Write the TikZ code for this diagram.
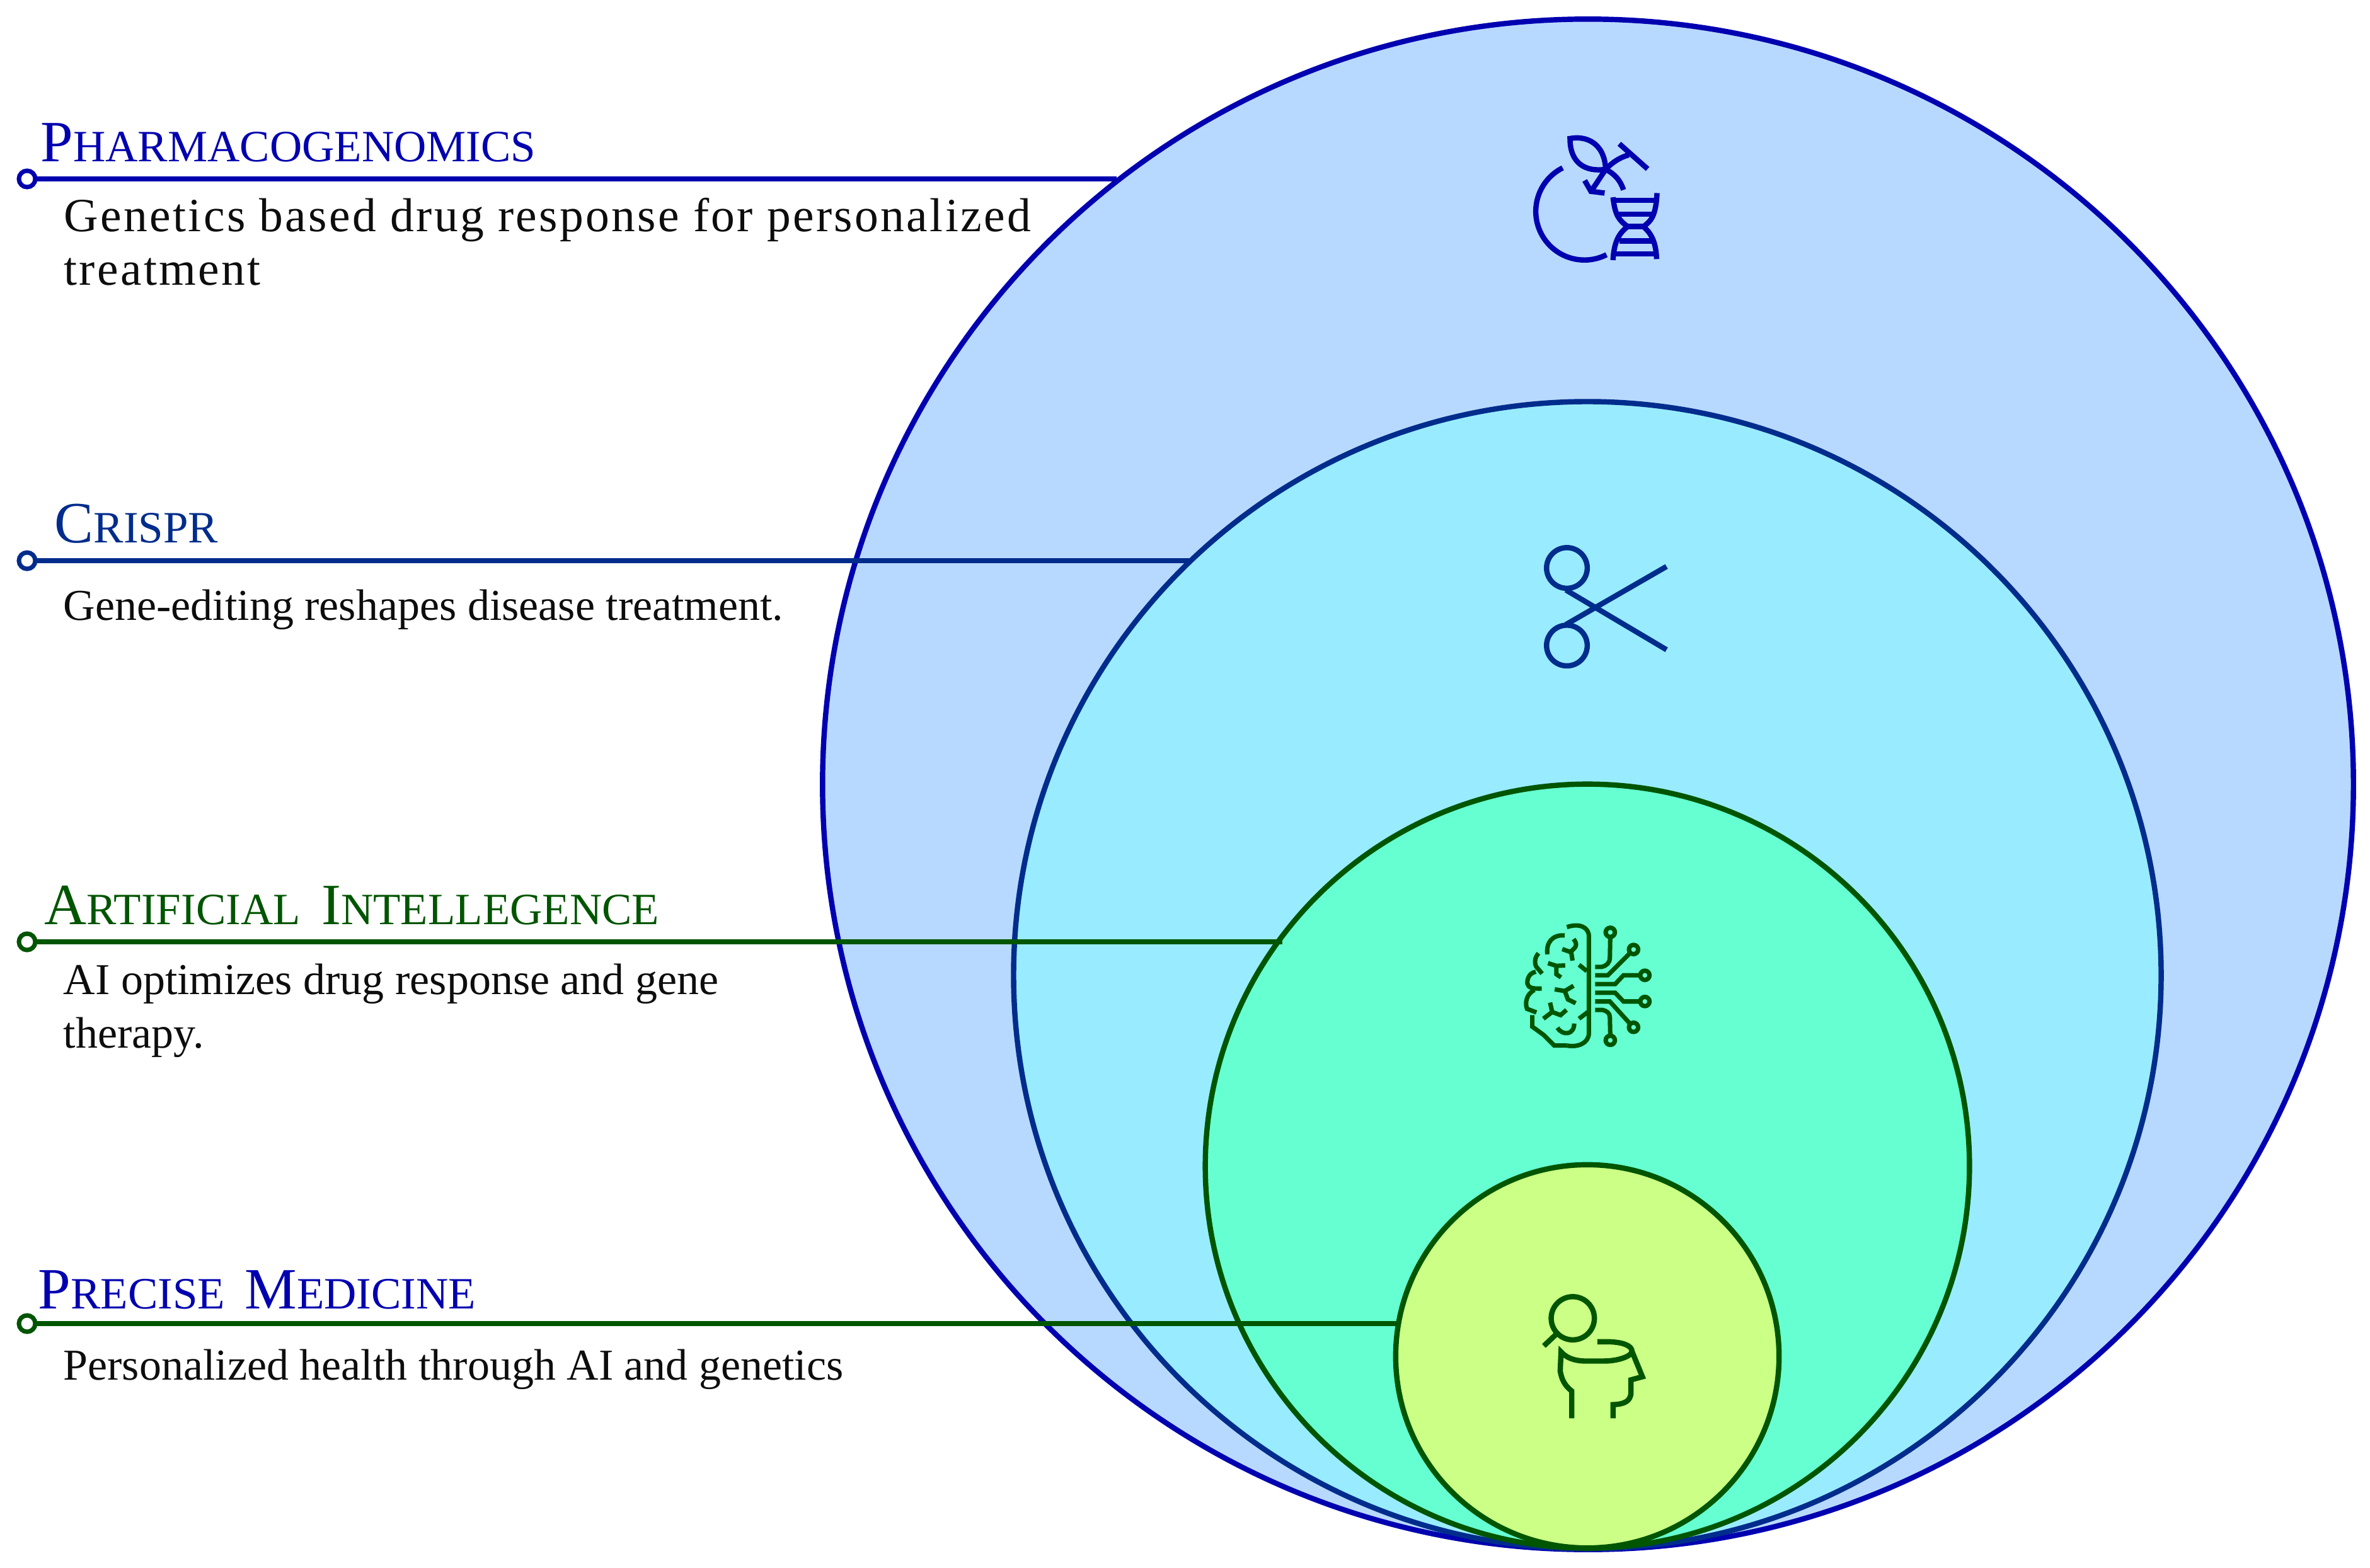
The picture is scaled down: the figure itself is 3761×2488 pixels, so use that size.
\documentclass[tikz,border=0pt]{standalone}
\usepackage{fontspec}
\setmainfont{Liberation Serif}
\definecolor{bluefill}{HTML}{B8D9FF}
\definecolor{cyanfill}{HTML}{99ECFF}
\definecolor{mintfill}{HTML}{66FFD2}
\definecolor{limefill}{HTML}{CBFF85}
\definecolor{rimblue}{HTML}{0000B0}
\definecolor{navy}{HTML}{002C8C}
\definecolor{leafgreen}{HTML}{005500}
\newcommand{\capword}[2]{{\fontsize{26.4}{30}\selectfont #1}{\fontsize{20.2}{30}\selectfont #2}}
\tikzset{
  ring/.style={draw=#1, circle, line width=2.4pt, inner sep=0pt, outer sep=0pt},
  pin/.style={draw=#1, circle, fill=white, line width=2pt, inner sep=0pt, outer sep=0pt, minimum size=0.26cm},
  leader/.style={draw=#1, line width=2.4pt},
  heading/.style={anchor=base west, inner sep=0pt, text=#1},
  body/.style={anchor=base west, inner sep=0pt, align=left, text=black!95, font=\fontsize{19.9}{23.9}\selectfont},
  icon/.style={x=0.0033333cm, y=-0.0033333cm, line width=2.4pt, draw=#1}
}
\begin{document}
\begin{tikzpicture}[x=0.01cm, y=-0.01cm]
\useasboundingbox (0,0) rectangle (3761,2488);
\node[ring=rimblue, fill=bluefill, minimum size=24.28cm] (outer) at (2520,1245) {};
\node[ring=navy, fill=cyanfill, minimum size=18.2cm] (crisprring) at (2519,1548) {};
\node[ring=leafgreen, fill=mintfill, minimum size=12.12cm] (airing) at (2519,1851) {};
\node[ring=leafgreen, fill=limefill, minimum size=6.08cm] (medring) at (2519,2153) {};

\node[pin=rimblue] (pinA) at (43,284) {};
\node[pin=navy] (pinB) at (43,890) {};
\node[pin=leafgreen] (pinC) at (43,1495) {};
\node[pin=leafgreen] (pinD) at (43,2101) {};
\draw [leader=rimblue] (pinA) -- (pinA -| outer.128.6);
\draw [leader=navy] (pinB) -- (pinB -| crisprring.134.1);
\draw [leader=leafgreen] (pinC) -- (pinC -| airing.143.8);
\draw [leader=leafgreen] (pinD) -- (pinD -| medring.170.15);

\node[heading=rimblue] (titleA) at (64,257) {\capword{P}{HARMACOGENOMICS}};
\node[heading=navy] (titleB) at (86,861) {\capword{C}{RISPR}};
\node[heading=leafgreen] (titleC) at (70,1467) {\capword{A}{RTIFICIAL}\hspace{9.5pt}\capword{I}{NTELLEGENCE}};
\node[heading=rimblue] (titleD) at (60,2077) {\capword{P}{RECISE}\hspace{9pt}\capword{M}{EDICINE}};

\node[body, font=\fontsize{21.5}{23.9}\selectfont\addfontfeature{LetterSpace=4.4}] (textA) at (101,452) {Genetics based drug response for personalized\\treatment};
\node[body] (textB) at (100,984) {Gene-editing reshapes disease treatment.};
\node[body] (textC) at (100,1663) {AI optimizes drug response and gene\\therapy.};
\node[body] (textD) at (100,2190) {Personalized health through AI and genetics};

\begin{scope}[shift={(2350,170)}, icon=rimblue]
\draw (390,290) arc [start angle=243.4, end angle=63, radius=232];
\draw (595,297) .. controls (500,310) and (425,270) .. (425,150) .. controls (500,135) and (590,170) .. (595,297);
\draw (660,175) -- (795,295);
\draw (595,297) .. controls (630,260) and (665,240) .. (705,228);
\draw (595,297) .. controls (640,320) and (665,350) .. (680,395);
\draw (595,297) -- (530,395);
\draw (495,350) -- (525,402) -- (590,410);
\draw (625,445) -- (840,445);
\draw (650,510) -- (825,510);
\draw (685,570) -- (795,570);
\draw (660,638) -- (820,638);
\draw (630,700) -- (840,700);
\draw (630,430) .. controls (640,520) and (660,540) .. (700,570) .. controls (660,600) and (635,640) .. (630,730);
\draw (840,410) .. controls (835,520) and (810,545) .. (775,570) .. controls (810,600) and (835,640) .. (838,725);
\end{scope}

\begin{scope}[shift={(2400,840)}, icon=navy]
\draw (260,185) circle [radius=97];
\draw (260,555) circle [radius=97];
\draw (255,290) -- (735,575);
\draw (255,455) -- (735,178);
\end{scope}

\begin{scope}[shift={(2360,1430)}, icon=leafgreen, line width=2pt]
\draw (380,125) .. controls (440,105) and (485,125) .. (485,170) -- (485,630) .. controls (485,680) and (430,700) .. (380,690);
\draw (370,165) .. controls (310,160) and (280,200) .. (287,255);
\draw (245,250) .. controls (225,270) and (225,300) .. (235,315) -- (262,347);
\draw (232,338) .. controls (195,345) and (190,380) .. (192,395) .. controls (195,415) and (220,420) .. (260,418);
\draw (225,425) .. controls (185,445) and (180,490) .. (190,515) -- (235,532);
\draw (215,545) -- (215,600) -- (270,640) -- (320,690) -- (380,690);
\draw (412,182) .. controls (435,210) and (420,225) .. (400,240) -- (407,285);
\draw (358,230) -- (400,245);
\draw (290,297) -- (330,310) -- (372,308);
\draw (330,310) -- (330,350) -- (352,365);
\draw (438,305) -- (475,335);
\draw (322,422) -- (370,430) -- (412,405);
\draw (370,430) -- (385,470) -- (422,488);
\draw (300,485) -- (310,530) -- (268,562);
\draw (310,530) -- (350,545) -- (378,520);
\draw (438,562) -- (480,530);
\draw (335,605) .. controls (360,645) and (415,640) .. (415,585);
\draw (515,315) -- (545,315) .. controls (570,310) and (585,295) .. (585,270) -- (587,172);
\draw (515,355) -- (575,355) -- (682,248);
\draw (515,397) -- (610,397) -- (650,355) -- (730,355);
\draw (515,438) -- (610,438) -- (650,480) -- (730,480);
\draw (515,480) -- (585,480) -- (682,587);
\draw (515,520) -- (550,520) .. controls (570,525) and (585,535) .. (585,555) -- (587,643);
\foreach \px/\py in {587/150, 698/232, 752/355, 752/480, 698/603, 587/665}
  \draw (\px,\py) circle [radius=22];
\end{scope}

\begin{scope}[shift={(2400,2020)}, icon=leafgreen]
\draw (288,218) circle [radius=103];
\draw (150,350) -- (208,295);
\draw (405,330) -- (460,330) .. controls (530,332) and (570,350) .. (570,375) .. controls (570,400) and (500,422) .. (440,422) -- (340,422) .. controls (300,420) and (260,410) .. (232,378) -- (228,470) .. controls (235,510) and (250,540) .. (283,565) -- (283,695);
\draw (570,375) -- (620,497) -- (565,512) -- (565,580) .. controls (560,610) and (540,628) .. (480,630) -- (480,695);
\end{scope}
\end{tikzpicture}
\end{document}
